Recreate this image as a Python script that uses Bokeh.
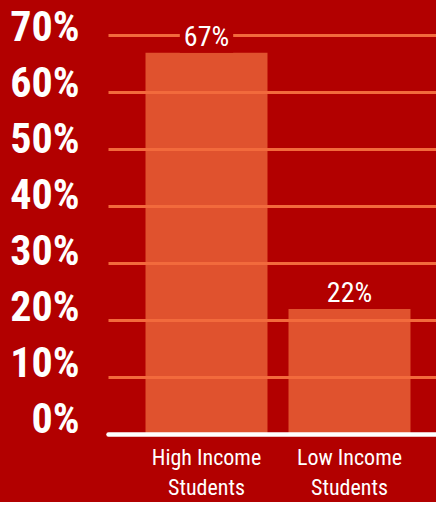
from bokeh.plotting import figure
from bokeh.models import Range1d, LinearAxis, FixedTicker, Grid, Label, ColumnDataSource
from bokeh.embed import file_html
from bokeh.resources import INLINE

# ---- data ----
categories = ["High Income\nStudents", "Low Income\nStudents"]
shares = [67, 22]
tick_values = [0, 10, 20, 30, 40, 50, 60, 70]
tick_labels = ["0%", "10%", "20%", "30%", "40%", "50%", "60%", "70%"]

# ---- style ----
BG = "#b20000"
BAR = "#e0522e"
GRID = "#f26a3c"
FONT = "Roboto Condensed"

xs = list(range(len(categories)))
src = ColumnDataSource(dict(x=xs, top=shares))

p = figure(width=436, height=502, output_backend="svg", toolbar_location=None,
           x_range=Range1d(-0.6853, 1.6084), y_range=Range1d(0, 74.04),
           y_axis_location=None,
           min_border_left=108, min_border_right=0, min_border_top=12, min_border_bottom=68)
p.extra_y_ranges = {"labels": Range1d(-2.95, 72.5)}
p.background_fill_color = BG
p.border_fill_color = None
p.styles = {"background-color": BG}
p.outline_line_color = None
p.xgrid.visible = False
p.ygrid.visible = False

p.vbar(x="x", top="top", width=0.853, source=src, fill_color=BAR, line_color=None)

grid = Grid(dimension=1, ticker=FixedTicker(ticks=tick_values[1:]),
            grid_line_color=GRID, grid_line_width=3, level="guide")
p.add_layout(grid)

xa = p.xaxis[0]
xa.ticker = FixedTicker(ticks=xs)
xa.major_label_overrides = {x: c for x, c in zip(xs, categories)}
xa.axis_line_color = "white"
xa.axis_line_width = 4.5
xa.axis_line_cap = "round"
xa.major_tick_line_color = None
xa.minor_tick_line_color = None
xa.major_tick_out = 0
xa.major_label_standoff = 10
xa.major_label_text_font = FONT
xa.major_label_text_font_size = "22px"
xa.major_label_text_color = "white"

ya = LinearAxis(y_range_name="labels", ticker=FixedTicker(ticks=tick_values),
                major_label_overrides={t: l for t, l in zip(tick_values, tick_labels)},
                axis_line_color=None, major_tick_line_color=None, minor_tick_line_color=None,
                major_tick_out=0, major_label_standoff=29,
                major_label_text_font=FONT, major_label_text_font_size="42px",
                major_label_text_font_style="bold", major_label_text_color="white")
p.add_layout(ya, "left")

for x, v in zip(xs, shares):
    p.add_layout(Label(x=x, y=v, text=f"{v}%", text_align="center", text_baseline="bottom",
                       y_offset=0, text_font=FONT, text_font_size="28px",
                       text_color="white", background_fill_color=BG, padding=(4, 0)))

open("out.html", "w").write(file_html(p, INLINE))
